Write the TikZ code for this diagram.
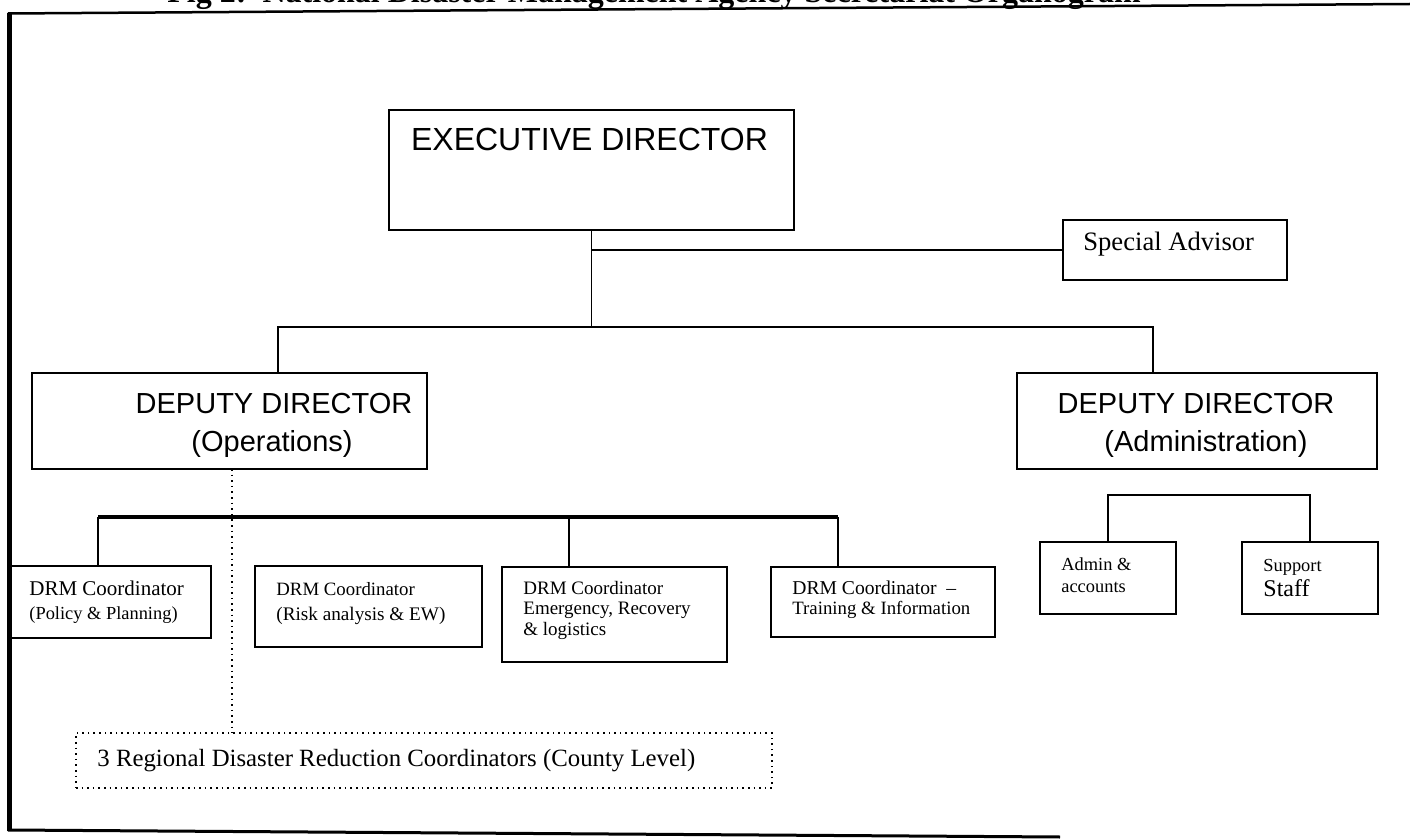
\documentclass[tikz,border=0pt]{standalone}
\usepackage{fontspec}
\setmainfont{Liberation Serif}
\setsansfont{Liberation Sans}
\usepackage{tikz}

\begin{document}
\begin{tikzpicture}[
    x=0.5pt, y=-0.5pt,      % one unit = one pixel of the sheet
    box/.style={draw, line width=1pt, inner sep=0pt, outer sep=0pt},
    dotbox/.style={draw, dotted, line width=0.8pt, inner sep=0pt, outer sep=0pt},
    link/.style={line width=0.8pt},
    thickbar/.style={line width=2pt},
    txt/.style={anchor=base west, inner sep=0pt, font=\fontsize{#1}{#1}\selectfont},
    head/.style={anchor=base, inner sep=0pt, font=\sffamily\fontsize{#1}{#1}\selectfont}]
    \useasboundingbox (0,0) rectangle (1410,840);

    % Frame and title
    \node[txt=16pt, font=\bfseries\fontsize{16pt}{16pt}\selectfont] (title) at (167,3)
        {Fig 2:\ \ National Disaster Management Agency Secretariat Organogram};
    \draw[line width=1.25pt] (8,13.5) -- (1410,4);
    \draw[line width=2.5pt] (9.5,13) -- (9.5,831);
    \draw[line width=1.5pt] (8,830) -- (1060,837);

    % Boxes
    \node[box, minimum width=202.5pt, minimum height=60pt] (ed) at (591.5,170) {};
    \node[box, minimum width=112pt, minimum height=30pt] (adv) at (1175,250) {};
    \node[box, minimum width=197.5pt, minimum height=48pt] (ops) at (229.5,421) {};
    \node[box, minimum width=180pt, minimum height=48pt] (adm) at (1197,421) {};
    \node[box, minimum width=100.5pt, minimum height=36pt] (plan) at (110.5,602) {};
    \node[box, minimum width=113.5pt, minimum height=40.5pt] (risk) at (368.5,606.5) {};
    \node[box, minimum width=112.5pt, minimum height=47.5pt] (emerg) at (614.5,614.5) {};
    \node[box, minimum width=112pt, minimum height=35pt] (train) at (883,602) {};
    \node[box, minimum width=68pt, minimum height=36pt] (acct) at (1108,578) {};
    \node[box, minimum width=68pt, minimum height=36pt] (staff) at (1310,578) {};
    \node[dotbox, minimum width=348pt, minimum height=27.5pt] (region) at (424,760.5) {};

    % Texts
    \node[head=16pt] (edname) at (589.5,151) {EXECUTIVE DIRECTOR};
    \node[txt=13.3pt] (advname) at (1083,250) {Special Advisor};
    \node[head=14.5pt] (opsname) at (274,413) {DEPUTY DIRECTOR};
    \node[head=14.5pt] (opsrole) at (272,451) {(Operations)};
    \node[head=14.5pt] (admname) at (1196,413) {DEPUTY DIRECTOR};
    \node[head=14.5pt] (admrole) at (1206,451) {(Administration)};
    \node[txt=10.5pt] (plan1) at (29,595) {DRM Coordinator};
    \node[txt=9.2pt] (plan2) at (29,619) {(Policy \& Planning)};
    \node[txt=9.4pt] (risk1) at (276,595) {DRM Coordinator};
    \node[txt=9.6pt] (risk2) at (276,620) {(Risk analysis \& EW)};
    \node[txt=9.5pt] (emerg1) at (523,594) {DRM Coordinator};
    \node[txt=9.5pt] (emerg2) at (523,614) {Emergency, Recovery};
    \node[txt=9.5pt] (emerg3) at (523,635) {\& logistics};
    \node[txt=9.8pt] (train1) at (792,594) {DRM Coordinator\ \ --};
    \node[txt=9.4pt] (train2) at (792,614) {Training \& Information};
    \node[txt=9.2pt] (acct1) at (1061,570) {Admin \&};
    \node[txt=9.2pt] (acct2) at (1061,592) {accounts};
    \node[txt=9.2pt] (staff1) at (1263,571) {Support};
    \node[txt=12pt] (staff2) at (1263,596) {Staff};
    \node[txt=12.4pt] (regname) at (97,766) {3 Regional Disaster Reduction Coordinators (County Level)};

    % Connectors
    \coordinate (bar) at (591.5,327);
    \coordinate (opsbar) at (569,517);
    \coordinate (admbar) at (1209,495);
    \draw[link] (ed.south) -- (bar);
    \draw[link] (ed.south |- adv.west) -- (adv.west);
    \draw[link] ([xshift=24.25pt]ops.north) |- (bar) -| ([xshift=-22pt]adm.north);
    \draw[thickbar] ([xshift=-6.25pt]plan.north |- opsbar) -- ([xshift=-22.5pt]train.north |- opsbar);
    \foreach \n/\s in {plan/-6.25pt, emerg/-22.75pt, train/-22.5pt}
        \draw[link] ([xshift=\s]\n.north) -- ([xshift=\s]\n.north |- opsbar);
    \draw[link, dotted] ([xshift=1.25pt]ops.south) -- ([xshift=1.25pt]ops.south |- region.north);
    \draw[link] (acct.north) |- (admbar) -| (staff.north);
\end{tikzpicture}
\end{document}
